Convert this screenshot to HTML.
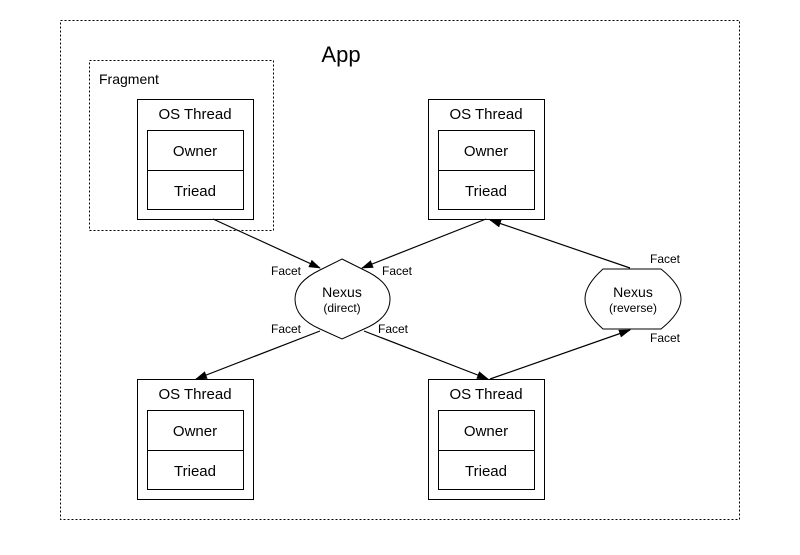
<!DOCTYPE html>
<html><head><style>body{margin:0;background:#fff}</style></head><body>
<svg width="800" height="550" viewBox="0 0 800 550" xmlns="http://www.w3.org/2000/svg" font-family="Liberation Sans, sans-serif">
<defs><marker id="a" markerWidth="12" markerHeight="8" refX="11" refY="4" orient="auto" markerUnits="userSpaceOnUse"><path d="M0,0L12,4L0,8z" fill="#000"/></marker></defs>
<rect x="60.5" y="20.5" width="679" height="499" fill="none" stroke="#000" stroke-dasharray="2,2"/>
<text x="341" y="62" font-size="22" text-anchor="middle">App</text>
<rect x="89.5" y="60.5" width="184" height="170" fill="none" stroke="#000" stroke-dasharray="2,2"/>
<text x="99" y="84" font-size="14">Fragment</text>
<g fill="#fff" stroke="#000">
<rect x="137.5" y="99.5" width="116" height="120"/><rect x="147.5" y="130.5" width="96" height="79"/><line x1="147" y1="170.5" x2="243" y2="170.5"/>
<rect x="428.5" y="99.5" width="116" height="120"/><rect x="438.5" y="130.5" width="96" height="79"/><line x1="438" y1="170.5" x2="534" y2="170.5"/>
<rect x="137.5" y="379.5" width="116" height="120"/><rect x="147.5" y="410.5" width="96" height="79"/><line x1="147" y1="450.5" x2="243" y2="450.5"/>
<rect x="428.5" y="379.5" width="116" height="120"/><rect x="438.5" y="410.5" width="96" height="79"/><line x1="438" y1="450.5" x2="534" y2="450.5"/>
</g>
<g font-size="15" text-anchor="middle">
<text x="195" y="119">OS Thread</text><text x="195" y="156">Owner</text><text x="195" y="196">Triead</text>
<text x="486" y="119">OS Thread</text><text x="486" y="156">Owner</text><text x="486" y="196">Triead</text>
<text x="195" y="399">OS Thread</text><text x="195" y="436">Owner</text><text x="195" y="476">Triead</text>
<text x="486" y="399">OS Thread</text><text x="486" y="436">Owner</text><text x="486" y="476">Triead</text>
</g>
<path d="M342,259L364,270Q390,282 390,299Q390,318 364,329L342,339L320,329Q295,318 295,299Q295,282 320,270Z" fill="#fff" stroke="#000"/>
<path d="M603,269L661,269Q681,285 681,299Q681,313 661,329L603,329Q585,313 585,299Q585,285 603,269Z" fill="#fff" stroke="#000"/>
<g font-size="14" text-anchor="middle"><text x="342" y="297">Nexus</text><text x="633" y="297">Nexus</text></g>
<g font-size="12" text-anchor="middle"><text x="342" y="312">(direct)</text><text x="633" y="312">(reverse)</text></g>
<g stroke="#000" stroke-width="1.2" fill="none" marker-end="url(#a)">
<line x1="213" y1="219" x2="320" y2="268"/>
<line x1="486" y1="219" x2="362" y2="268"/>
<line x1="630" y1="268" x2="490" y2="220"/>
<line x1="320" y1="331" x2="196" y2="379"/>
<line x1="364" y1="331" x2="488" y2="379"/>
<line x1="490" y1="379" x2="630" y2="330"/>
</g>
<g font-size="12">
<text x="271" y="275">Facet</text><text x="382" y="275">Facet</text>
<text x="650" y="263">Facet</text><text x="650" y="342">Facet</text>
<text x="271" y="333">Facet</text><text x="378" y="333">Facet</text>
</g>
</svg>
</body></html>
